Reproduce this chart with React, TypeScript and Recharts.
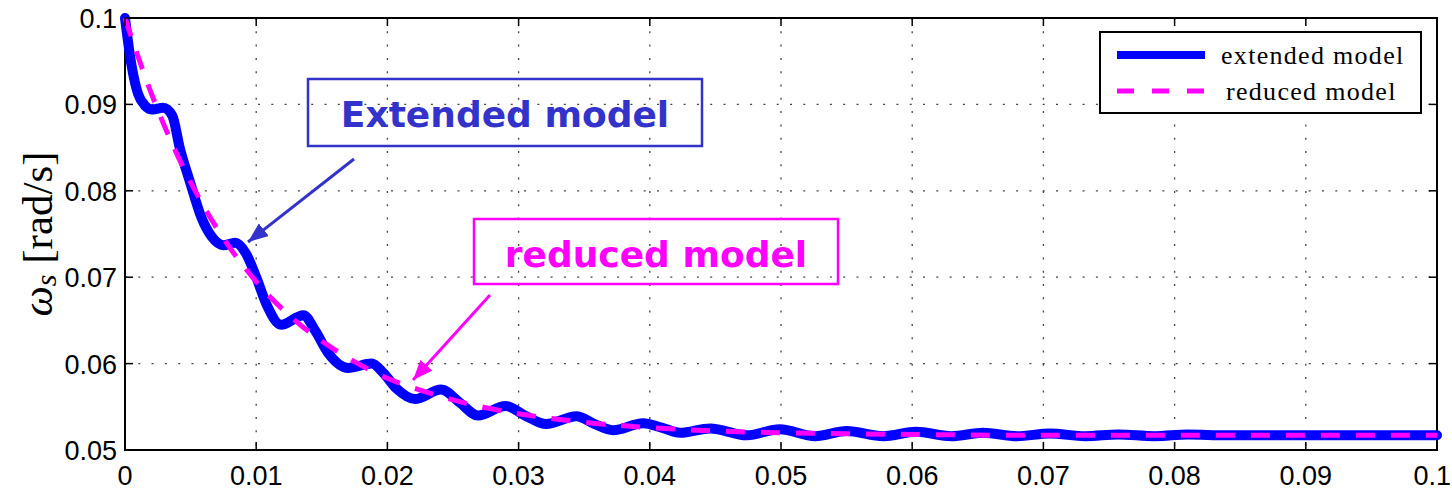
import React from 'react';
import {
  LineChart,
  Line,
  XAxis,
  YAxis,
  CartesianGrid,
  ReferenceArea,
  Legend,
} from 'recharts';

// time axis [s] and tick labels
const xTicks = [0, 0.01, 0.02, 0.03, 0.04, 0.05, 0.06, 0.07, 0.08, 0.09, 0.1];
const xTickLabels = ['0', '0.01', '0.02', '0.03', '0.04', '0.05', '0.06', '0.07', '0.08', '0.09', '0.1'];
const yTicks = [0.05, 0.06, 0.07, 0.08, 0.09, 0.1];
const yTickLabels = ['0.05', '0.06', '0.07', '0.08', '0.09', '0.1'];

// extended model
const extendedT = [
  0, 0.0005, 0.001, 0.0015, 0.0021, 0.0029, 0.0036, 0.0042, 0.005, 0.0058, 0.0066,
  0.0075, 0.0084, 0.0092, 0.01, 0.0108, 0.0119, 0.0136, 0.0145, 0.0155, 0.017,
  0.0188, 0.0197, 0.0207, 0.0221, 0.0241, 0.0255, 0.0269, 0.029, 0.0306, 0.0321,
  0.0344, 0.0358, 0.0372, 0.0395, 0.0409, 0.0423, 0.0446, 0.0474, 0.0499, 0.0526,
  0.055, 0.0578, 0.0603, 0.063, 0.0654, 0.068, 0.0705, 0.0732, 0.0757, 0.0785,
  0.081, 0.084, 0.09, 0.1,
];
const extendedW = [
  0.1, 0.0945, 0.0912, 0.0899, 0.0894, 0.0896, 0.0887, 0.0848, 0.0808, 0.077, 0.0747,
  0.0737, 0.074, 0.0728, 0.07, 0.0668, 0.0645, 0.0656, 0.0638, 0.0612, 0.0595,
  0.06, 0.0589, 0.0571, 0.0559, 0.057, 0.0555, 0.054, 0.0551, 0.0539, 0.053,
  0.0539, 0.053, 0.0523, 0.0531, 0.0526, 0.052, 0.0525, 0.0517, 0.0524, 0.0516,
  0.0522, 0.0516, 0.0521, 0.0516, 0.052, 0.0516, 0.0519, 0.0516, 0.0518, 0.0516,
  0.0518, 0.0517, 0.0517, 0.0517,
];

// reduced model
const reducedT = [
  0, 0.002, 0.004, 0.006, 0.008, 0.01, 0.012, 0.014, 0.016, 0.018, 0.02, 0.023,
  0.026, 0.03, 0.035, 0.04, 0.045, 0.05, 0.06, 0.07, 0.08, 0.1,
];
const reducedW = [
  0.1, 0.0913, 0.0841, 0.0782, 0.0734, 0.0695, 0.0663, 0.0637, 0.0616, 0.0598,
  0.0583, 0.0567, 0.0554, 0.0542, 0.0532, 0.0526, 0.0522, 0.052, 0.0518, 0.0517,
  0.0517, 0.0517,
];

const extendedData = extendedT.map((t, i) => ({ t, w: extendedW[i] }));
const reducedData = reducedT.map((t, i) => ({ t, w: reducedW[i] }));

const PLOT = { left: 125, right: 1437, top: 18, bottom: 450 };
const TICK_LEN = 8;
const SANS = '"Liberation Sans", Arial, Helvetica, sans-serif';
const SERIF = '"Liberation Serif", "Times New Roman", serif';
const BLUE = '#0000ff';
const MAGENTA = '#ff00ff';
const NOTE_BLUE = '#3333cc';

const XTick = (props: any) => {
  const { x, payload } = props;
  const idx = xTicks.indexOf(payload.value);
  const last = idx === xTicks.length - 1;
  return (
    <g>
      <line x1={x} x2={x} y1={PLOT.bottom} y2={PLOT.bottom - TICK_LEN} stroke="#000" strokeWidth={1.5} />
      <line x1={x} x2={x} y1={PLOT.top} y2={PLOT.top + TICK_LEN} stroke="#000" strokeWidth={1.5} />
      {/* last label would spill past the page edge, keep it inside */}
      <text
        x={last ? 1451 : x}
        y={485}
        textAnchor={last ? 'end' : 'middle'}
        fontFamily={SANS}
        fontSize={27}
        fill="#000"
      >
        {xTickLabels[idx]}
      </text>
    </g>
  );
};

const YTick = (props: any) => {
  const { y, payload } = props;
  const idx = yTicks.findIndex((v) => Math.abs(v - payload.value) < 1e-9);
  return (
    <g>
      <line x1={PLOT.left} x2={PLOT.left + TICK_LEN} y1={y} y2={y} stroke="#000" strokeWidth={1.5} />
      <line x1={PLOT.right - TICK_LEN} x2={PLOT.right} y1={y} y2={y} stroke="#000" strokeWidth={1.5} />
      <text x={117} y={y + 10} textAnchor="end" fontFamily={SANS} fontSize={27} fill="#000">
        {yTickLabels[idx]}
      </text>
    </g>
  );
};

const LegendBox = () => (
  <svg width={324} height={84} style={{ display: 'block' }}>
    <rect x={1} y={1} width={321} height={81} fill="#fff" stroke="#000" strokeWidth={2} />
    <line x1={18} x2={106} y1={24} y2={24} stroke={BLUE} strokeWidth={8} />
    <line x1={18} x2={106} y1={60} y2={60} stroke={MAGENTA} strokeWidth={5} strokeDasharray="17 18" />
    <text x={122} y={33} fontFamily={SERIF} fontSize={26} letterSpacing={1.3} fill="#000">
      extended model
    </text>
    <text x={127} y={69} fontFamily={SERIF} fontSize={26} letterSpacing={1.3} fill="#000">
      reduced model
    </text>
  </svg>
);

const Annotations = () => (
  <svg
    width={1452}
    height={490}
    style={{ position: 'absolute', left: 0, top: 0, pointerEvents: 'none' }}
  >
    <defs>
      <marker id="headBlue" markerUnits="userSpaceOnUse" markerWidth={20} markerHeight={16} refX={20} refY={8} orient="auto">
        <path d="M0,0 L20,8 L0,16 z" fill={NOTE_BLUE} />
      </marker>
      <marker id="headMagenta" markerUnits="userSpaceOnUse" markerWidth={20} markerHeight={16} refX={20} refY={8} orient="auto">
        <path d="M0,0 L20,8 L0,16 z" fill={MAGENTA} />
      </marker>
    </defs>

    {/* y axis label */}
    <text transform="translate(52,234) rotate(-90)" textAnchor="middle" fontFamily={SERIF} fontSize={43} fill="#000">
      <tspan fontStyle="italic">ω</tspan>
      <tspan fontStyle="italic" fontSize={30} dy={4}>s</tspan>
      <tspan dy={-4}> [rad/s]</tspan>
    </text>

    {/* Extended model note */}
    <rect x={308} y={79} width={394} height={67} fill="none" stroke={NOTE_BLUE} strokeWidth={2.5} />
    <text x={505} y={127} textAnchor="middle" fontFamily='"DejaVu Sans", Verdana, sans-serif' fontWeight="bold" fontSize={36} fill={NOTE_BLUE}>
      Extended model
    </text>
    <line x1={354} y1={159} x2={248} y2={242} stroke={NOTE_BLUE} strokeWidth={3} markerEnd="url(#headBlue)" />

    {/* reduced model note */}
    <rect x={474} y={219} width={364} height={65} fill="none" stroke={MAGENTA} strokeWidth={2.5} />
    <text x={656} y={267} textAnchor="middle" fontFamily='"DejaVu Sans", Verdana, sans-serif' fontWeight="bold" fontSize={36} fill={MAGENTA}>
      reduced model
    </text>
    <line x1={490} y1={295} x2={413} y2={380} stroke={MAGENTA} strokeWidth={3} markerEnd="url(#headMagenta)" />
  </svg>
);

export default function App() {
  return (
    <div style={{ position: 'absolute', left: 0, top: 0, width: 1452, height: 490, background: '#fff' }}>
      <LineChart width={1452} height={490} margin={{ top: 18, right: 15, bottom: 0, left: 0 }}>
        <CartesianGrid stroke="#444" strokeDasharray="2 11.3" strokeWidth={1.3} />
        <XAxis
          dataKey="t"
          type="number"
          domain={[0, 0.1]}
          ticks={xTicks}
          height={40}
          axisLine={false}
          tickLine={false}
          tick={<XTick />}
          allowDuplicatedCategory={false}
        />
        <YAxis
          dataKey="w"
          type="number"
          domain={[0.05, 0.1]}
          ticks={yTicks}
          width={125}
          axisLine={false}
          tickLine={false}
          tick={<YTick />}
        />
        <Line
          data={extendedData}
          dataKey="w"
          name="extended model"
          type="monotone"
          stroke={BLUE}
          strokeWidth={10}
          strokeLinecap="round"
          strokeLinejoin="round"
          dot={false}
          isAnimationActive={false}
        />
        <Line
          data={reducedData}
          dataKey="w"
          name="reduced model"
          type="monotone"
          stroke={MAGENTA}
          strokeWidth={5}
          strokeDasharray="19 16"
          dot={false}
          isAnimationActive={false}
        />
        <ReferenceArea x1={0} x2={0.1} y1={0.05} y2={0.1} fill="none" stroke="#000" strokeWidth={2} />
        <Legend
          layout="horizontal"
          verticalAlign="middle"
          align="center"
          content={<LegendBox />}
          wrapperStyle={{ position: 'absolute', left: 1099, top: 31, width: 324, height: 84 }}
        />
      </LineChart>
      <Annotations />
    </div>
  );
}
